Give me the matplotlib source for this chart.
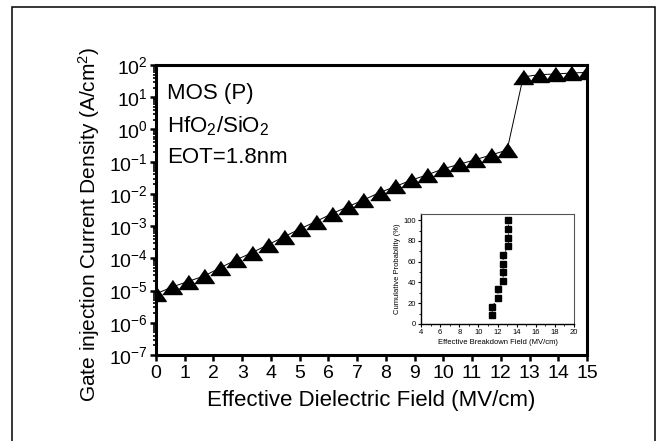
import numpy as np
import matplotlib
matplotlib.use("Agg")
import matplotlib.pyplot as plt
from matplotlib.patches import Rectangle
from matplotlib.ticker import FixedLocator, FuncFormatter, LogLocator, NullFormatter, MultipleLocator

plt.rcParams['font.family'] = ['Liberation Sans', 'DejaVu Sans']
plt.rcParams['mathtext.fontset'] = 'custom'
plt.rcParams['mathtext.rm'] = 'Liberation Sans'
plt.rcParams['mathtext.it'] = 'Liberation Sans'

# main curve: field (MV/cm) vs gate injection current density (A/cm^2), log10 values
field = [0.00, 0.56, 1.11, 1.67, 2.22, 2.78, 3.33, 3.89, 4.44, 5.00, 5.56, 6.11, 6.67, 7.22,
         7.78, 8.33, 8.89, 9.44, 10.00, 10.56, 11.11, 11.67, 12.22,
         12.78, 13.33, 13.89, 14.44, 15.00]
log_j = [-5.10, -4.89, -4.72, -4.55, -4.30, -4.05, -3.83, -3.58, -3.34, -3.09, -2.86, -2.62, -2.40, -2.19,
         -1.96, -1.77, -1.57, -1.41, -1.22, -1.08, -0.94, -0.79, -0.64,
         1.63, 1.70, 1.72, 1.75, 1.77]

# inset: breakdown field distribution
bd_field = [11.45, 11.45, 12.05, 12.05, 12.6, 12.6, 12.6, 12.6, 13.15, 13.15, 13.15, 13.15]
cum_prob = [8.3, 16.7, 25.0, 33.3, 41.7, 50.0, 58.3, 66.7, 75.0, 83.3, 91.7, 100.0]

notes = ['MOS (P)', 'HfO$_2$/SiO$_2$', 'EOT=1.8nm']

W, H = 658, 441
fig = plt.figure(figsize=(W / 100, H / 100), dpi=100)

# outer frame
fig.patches.append(Rectangle((12 / W, -0.05), 643 / W, 1 - 7 / H + 0.05, transform=fig.transFigure,
                             fill=False, edgecolor='black', linewidth=1.1))

ax = fig.add_axes([156 / W, 1 - 355 / H, (587 - 156) / W, (355 - 65) / H])
tri = [(-1, -0.72), (1, -0.72), (0, 0.72)]
ax.plot(field, 10 ** np.array(log_j), color='black', linewidth=0.7, marker=tri,
        markersize=14, markerfacecolor='black', markeredgecolor='black', clip_on=True)
ax.set_yscale('log')
ax.set_xlim(0, 15)
ax.set_ylim(1e-7, 1e2)
ax.xaxis.set_major_locator(MultipleLocator(1))
ax.yaxis.set_major_locator(FixedLocator([10.0 ** k for k in range(-7, 3)]))
ax.yaxis.set_major_formatter(FuncFormatter(lambda v, p: '$\\mathregular{10^{%d}}$' % round(np.log10(v))))
ax.yaxis.set_minor_locator(LogLocator(base=10, subs=np.arange(2, 10), numticks=20))
ax.yaxis.set_minor_formatter(NullFormatter())
for s in ax.spines.values():
    s.set_linewidth(2.2)
ax.tick_params(axis='both', which='major', direction='out', length=4, width=1.8, labelsize=14, pad=2)
ax.tick_params(axis='y', which='minor', direction='out', length=2.5, width=1.2)
ax.tick_params(axis='x', pad=3)
ax.set_xlabel('Effective Dielectric Field (MV/cm)', fontsize=16, labelpad=6)
ax.set_ylabel('Gate injection Current Density (A/cm$^2$)', fontsize=15)
ax.yaxis.set_label_coords(-0.125, 0.45)

for i, t in enumerate(notes):
    ax.text(0.025, 0.9 - i * 0.11, t, transform=ax.transAxes, fontsize=16, va='center', ha='left')

# inset
ins = fig.add_axes([421 / W, 1 - 324 / H, (574 - 421) / W, (324 - 214) / H])
ins.plot(bd_field, cum_prob, color='black', linestyle=':', linewidth=0.8, marker='s',
         markersize=4.5, markerfacecolor='black', markeredgecolor='black')
ins.set_xlim(4, 20)
ins.set_ylim(0, 106)
ins.xaxis.set_major_locator(MultipleLocator(2))
ins.xaxis.set_minor_locator(MultipleLocator(1))
ins.yaxis.set_major_locator(MultipleLocator(20))
ins.yaxis.set_minor_locator(MultipleLocator(10))
ins.spines['left'].set_linewidth(1.0)
ins.spines['bottom'].set_linewidth(1.0)
ins.spines['top'].set_linewidth(0.8)
ins.spines['right'].set_linewidth(0.8)
ins.spines['top'].set_color('#555555')
ins.spines['right'].set_color('#555555')
ins.tick_params(axis='both', which='major', direction='out', length=2.5, width=0.8, labelsize=5.5, pad=1)
ins.tick_params(axis='both', which='minor', direction='out', length=1.5, width=0.6)
ins.set_xlabel('Effective Breakdown Field (MV/cm)', fontsize=5.5, labelpad=2)
ins.set_ylabel('Cumulative Probability (%)', fontsize=5.5, labelpad=2)

fig.savefig('out.png', dpi=100)
